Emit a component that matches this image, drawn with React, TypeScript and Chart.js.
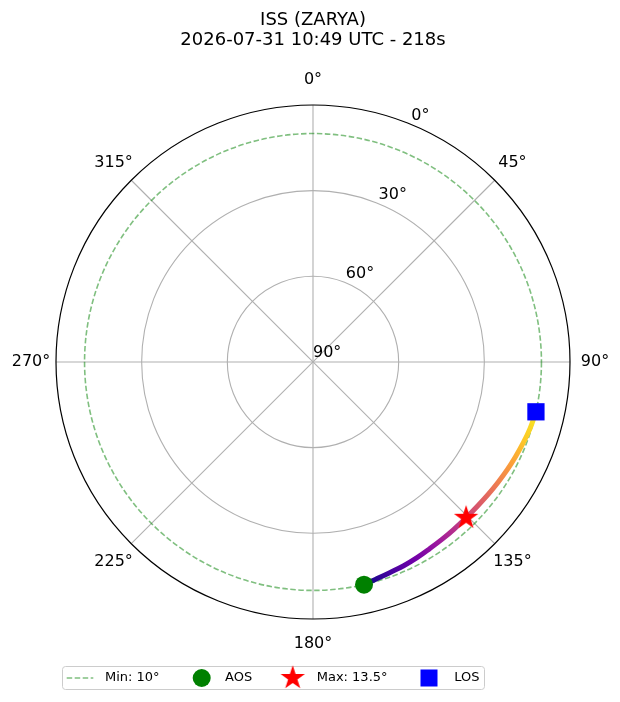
import { useEffect, useRef } from "react";
import { Chart, registerables } from "chart.js";

Chart.register(...registerables);

const titleLines = ["ISS (ZARYA)", "2026-07-31 10:49 UTC - 218s"];

// pass track, AOS -> LOS (azimuth / elevation in degrees)
const trackAz = [167.1, 164, 160, 156, 152, 148, 144, 140, 135.5, 131, 127, 123, 119, 115, 111, 107, 102.6];
const trackEl = [10.0, 10.8, 11.5, 11.9, 12.4, 12.9, 13.2, 13.4, 13.5, 13.4, 13.1, 12.7, 12.2, 11.7, 11.1, 10.5, 10.0];

const aos = { az: 167.1, el: 10.0 };
const maxPt = { az: 135.5, el: 13.5 };
const los = { az: 102.6, el: 10.0 };
const minElevation = 10;

const azTicks = [0, 45, 90, 135, 180, 225, 270, 315];
const elRings = [60, 30];
const elTickLabels = [90, 60, 30, 0];
const legendLabels = ["Min: 10°", "AOS", "Max: 13.5°", "LOS"];

const plasma = ["#0d0887", "#46039f", "#7201a8", "#9c179e", "#bd3786", "#d8576b", "#ed7953", "#fb9f3a", "#fdca26", "#f6e826"];

const FONT = "'DejaVu Sans', sans-serif";

// polar (az clockwise from north, r = 90 - el) to plain x/y
const toXY = (az: number, el: number) => {
  const r = 90 - el;
  const a = (az * Math.PI) / 180;
  return { x: r * Math.sin(a), y: r * Math.cos(a) };
};

function makeStar(outer: number, color: string) {
  const inner = outer * 0.382;
  const size = Math.ceil(outer * 2) + 2;
  const c = document.createElement("canvas");
  c.width = size;
  c.height = size;
  const g = c.getContext("2d")!;
  g.translate(size / 2, size / 2);
  g.beginPath();
  for (let i = 0; i < 10; i++) {
    const rr = i % 2 === 0 ? outer : inner;
    const a = (i * Math.PI) / 5;
    const px = rr * Math.sin(a);
    const py = -rr * Math.cos(a);
    if (i === 0) g.moveTo(px, py);
    else g.lineTo(px, py);
  }
  g.closePath();
  g.fillStyle = color;
  g.fill();
  return c;
}

const polarPlugin = {
  id: "polarGrid",
  beforeDatasetsDraw(chart: any) {
    const { ctx } = chart;
    const xs = chart.scales.x;
    const ys = chart.scales.y;
    const cx = xs.getPixelForValue(0);
    const cy = ys.getPixelForValue(0);
    const rp = (el: number) => xs.getPixelForValue(90 - el) - cx;
    const R = rp(0);

    ctx.save();
    ctx.strokeStyle = "#b0b0b0";
    ctx.lineWidth = 1.1;
    elRings.forEach((el) => {
      ctx.beginPath();
      ctx.arc(cx, cy, rp(el), 0, Math.PI * 2);
      ctx.stroke();
    });
    azTicks.forEach((az) => {
      const a = (az * Math.PI) / 180;
      ctx.beginPath();
      ctx.moveTo(cx, cy);
      ctx.lineTo(cx + R * Math.sin(a), cy - R * Math.cos(a));
      ctx.stroke();
    });

    // minimum elevation ring
    ctx.strokeStyle = "rgba(0,128,0,0.5)";
    ctx.lineWidth = 1.6;
    ctx.setLineDash([5.5, 2.5]);
    ctx.beginPath();
    ctx.arc(cx, cy, rp(minElevation), 0, Math.PI * 2);
    ctx.stroke();
    ctx.setLineDash([]);

    // outer spine
    ctx.strokeStyle = "#000";
    ctx.lineWidth = 1.2;
    ctx.beginPath();
    ctx.arc(cx, cy, R, 0, Math.PI * 2);
    ctx.stroke();
    ctx.restore();
  },
  afterDraw(chart: any) {
    const { ctx } = chart;
    const xs = chart.scales.x;
    const ys = chart.scales.y;
    const cx = xs.getPixelForValue(0);
    const cy = ys.getPixelForValue(0);
    const rp = (el: number) => xs.getPixelForValue(90 - el) - cx;
    const R = rp(0);

    ctx.save();
    ctx.fillStyle = "#000";
    ctx.font = `16px ${FONT}`;

    // azimuth labels
    ctx.textAlign = "center";
    ctx.textBaseline = "middle";
    azTicks.forEach((az) => {
      const a = (az * Math.PI) / 180;
      ctx.fillText(`${az}°`, cx + (R + 25) * Math.sin(a), cy - (R + 25) * Math.cos(a));
    });

    // elevation labels along 22.5°
    ctx.textAlign = "left";
    ctx.textBaseline = "alphabetic";
    const la = (22.5 * Math.PI) / 180;
    elTickLabels.forEach((el) => {
      const r = rp(el);
      ctx.fillText(`${el}°`, cx + r * Math.sin(la), cy - r * Math.cos(la) - 4.5);
    });

    // legend
    const ly = 678;
    ctx.beginPath();
    ctx.roundRect(62.5, 666.5, 422, 23, 3);
    ctx.fillStyle = "rgba(255,255,255,0.8)";
    ctx.fill();
    ctx.strokeStyle = "#cccccc";
    ctx.lineWidth = 1;
    ctx.stroke();

    ctx.strokeStyle = "rgba(0,128,0,0.5)";
    ctx.lineWidth = 1.6;
    ctx.setLineDash([5.5, 2.5]);
    ctx.beginPath();
    ctx.moveTo(66.7, ly);
    ctx.lineTo(93.3, ly);
    ctx.stroke();
    ctx.setLineDash([]);

    ctx.fillStyle = "#008000";
    ctx.beginPath();
    ctx.arc(201.7, ly, 9, 0, Math.PI * 2);
    ctx.fill();

    const star = chart.$star as HTMLCanvasElement;
    if (star) ctx.drawImage(star, 292.7 - star.width / 2, ly - star.height / 2);

    ctx.fillStyle = "#0000ff";
    ctx.fillRect(429 - 8.5, ly - 8.5, 17, 17);

    ctx.fillStyle = "#000";
    ctx.font = `13px ${FONT}`;
    ctx.textBaseline = "middle";
    const textX = [105, 225, 316.7, 454.3];
    legendLabels.forEach((t, i) => ctx.fillText(t, textX[i], ly));
    ctx.restore();
  },
};

const PassChart = () => {
  const canvasRef = useRef<HTMLCanvasElement>(null);

  useEffect(() => {
    document.body.style.margin = "0";
    if (!canvasRef.current) return;

    const star = makeStar(12.8, "#ff0000");
    const trackData = trackAz.map((az, i) => toXY(az, trackEl[i]));
    const a = toXY(aos.az, aos.el);
    const m = toXY(maxPt.az, maxPt.el);
    const l = toXY(los.az, los.el);

    const chart: any = new Chart(canvasRef.current, {
      type: "scatter",
      data: {
        datasets: [
          {
            label: "AOS",
            data: [a],
            pointStyle: "circle",
            pointRadius: 9,
            backgroundColor: "#008000",
            borderWidth: 0,
          },
          {
            label: "Max",
            data: [m],
            pointStyle: star,
            pointRadius: 12,
          },
          {
            label: "LOS",
            data: [l],
            pointStyle: "rect",
            pointRadius: 12.2,
            backgroundColor: "#0000ff",
            borderWidth: 0,
          },
          {
            label: "Track",
            data: trackData,
            showLine: true,
            pointRadius: 0,
            borderWidth: 5,
            tension: 0.4,
            borderCapStyle: "round",
            borderColor: (c: any) => {
              const ch = c.chart;
              if (!ch.chartArea) return plasma[0];
              const xs = ch.scales.x;
              const ys = ch.scales.y;
              const g = ch.ctx.createLinearGradient(
                xs.getPixelForValue(a.x),
                ys.getPixelForValue(a.y),
                xs.getPixelForValue(l.x),
                ys.getPixelForValue(l.y)
              );
              plasma.forEach((col, i) => g.addColorStop(i / (plasma.length - 1), col));
              return g;
            },
          } as any,
        ],
      },
      options: {
        responsive: true,
        maintainAspectRatio: false,
        animation: false,
        events: [],
        layout: { padding: { left: 56, right: 50, top: 0, bottom: 83 } },
        scales: {
          x: { type: "linear", min: -90, max: 90, display: false },
          y: { type: "linear", min: -90, max: 90, display: false },
        },
        plugins: {
          legend: { display: false },
          tooltip: { enabled: false },
          title: {
            display: true,
            text: titleLines,
            color: "#000",
            font: { family: FONT, size: 18, weight: "normal", lineHeight: 1.11 },
            padding: { top: 10, bottom: 55 },
          },
        },
      },
      plugins: [polarPlugin],
    });
    chart.$star = star;
    chart.draw();

    return () => chart.destroy();
  }, []);

  return (
    <div style={{ position: "relative", width: "620px", height: "702px" }}>
      <canvas ref={canvasRef}></canvas>
    </div>
  );
};

export default function App() {
  return <PassChart />;
}
